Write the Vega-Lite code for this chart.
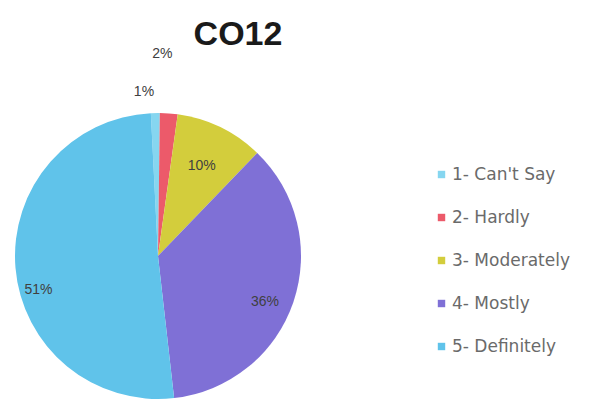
{
  "$schema": "https://vega.github.io/schema/vega-lite/v6.json",
  "autosize": "none",
  "width": 316,
  "height": 286,
  "padding": {"left": 0, "top": 113, "right": 274, "bottom": 15},
  "background": "white",
  "title": {
    "text": "CO12",
    "font": "Liberation Sans",
    "fontSize": 34,
    "fontWeight": "bold",
    "color": "#1a1a1a",
    "anchor": "middle",
    "dx": 80,
    "offset": -6
  },
  "data": {
    "values": [
      {"cat": "1- Can't Say", "pct": 1, "label": "1%"},
      {"cat": "2- Hardly", "pct": 2, "label": "2%"},
      {"cat": "3- Moderately", "pct": 10, "label": "10%"},
      {"cat": "4- Mostly", "pct": 36, "label": "36%"},
      {"cat": "5- Definitely", "pct": 51, "label": "51%"}
    ]
  },
  "layer": [
    {
      "mark": {"type": "arc", "outerRadius": 143},
      "encoding": {
        "theta": {"field": "pct", "type": "quantitative", "stack": true, "scale": {"range": [-0.05, 6.2332]}},
        "order": {"field": "cat", "sort": "ascending"},
        "color": {
          "field": "cat",
          "type": "nominal",
          "scale": {
            "domain": ["1- Can't Say", "2- Hardly", "3- Moderately", "4- Mostly", "5- Definitely"],
            "range": ["#86d6f0", "#ec5a6a", "#d3cd3c", "#7f70d6", "#60c3ea"]
          },
          "legend": {
            "title": null,
            "orient": "none",
            "legendX": 433,
            "legendY": 53,
            "padding": 0,
            "symbolType": "square",
            "symbolSize": 55,
            "symbolStrokeWidth": 0,
            "labelFont": "DejaVu Sans",
            "labelFontSize": 17,
            "labelColor": "#6a6a6a",
            "labelOffset": 2,
            "rowPadding": 25,
            "labelLimit": 200
          }
        }
      }
    },
    {
      "mark": {"type": "text", "radius": 100, "font": "Liberation Sans", "fontSize": 14, "color": "#404040"},
      "encoding": {
        "theta": {"field": "pct", "type": "quantitative", "stack": true, "scale": {"range": [-0.05, 6.2332]}},
        "order": {"field": "cat", "sort": "ascending"},
        "text": {"condition": {"test": "datum.cat === '3- Moderately'", "field": "label"}, "value": ""}
      }
    },
    {
      "mark": {"type": "text", "radius": 113, "dy": 10, "font": "Liberation Sans", "fontSize": 14, "color": "#404040"},
      "encoding": {
        "theta": {"field": "pct", "type": "quantitative", "stack": true, "scale": {"range": [-0.05, 6.2332]}},
        "order": {"field": "cat", "sort": "ascending"},
        "text": {"condition": {"test": "datum.cat === '4- Mostly'", "field": "label"}, "value": ""}
      }
    },
    {
      "mark": {"type": "text", "radius": 120, "dy": 24, "font": "Liberation Sans", "fontSize": 14, "color": "#404040"},
      "encoding": {
        "theta": {"field": "pct", "type": "quantitative", "stack": true, "scale": {"range": [-0.05, 6.2332]}},
        "order": {"field": "cat", "sort": "ascending"},
        "text": {"condition": {"test": "datum.cat === '5- Definitely'", "field": "label"}, "value": ""}
      }
    },
    {
      "mark": {"type": "text", "radius": 164, "dx": -11, "font": "Liberation Sans", "fontSize": 14, "color": "#404040"},
      "encoding": {
        "theta": {"field": "pct", "type": "quantitative", "stack": true, "scale": {"range": [-0.05, 6.2332]}},
        "order": {"field": "cat", "sort": "ascending"},
        "text": {"condition": {"test": "datum.cat === '1- Can\\'t Say'", "field": "label"}, "value": ""}
      }
    },
    {
      "mark": {"type": "text", "radius": 203, "dx": -11, "font": "Liberation Sans", "fontSize": 14, "color": "#404040"},
      "encoding": {
        "theta": {"field": "pct", "type": "quantitative", "stack": true, "scale": {"range": [-0.05, 6.2332]}},
        "order": {"field": "cat", "sort": "ascending"},
        "text": {"condition": {"test": "datum.cat === '2- Hardly'", "field": "label"}, "value": ""}
      }
    }
  ]
}
